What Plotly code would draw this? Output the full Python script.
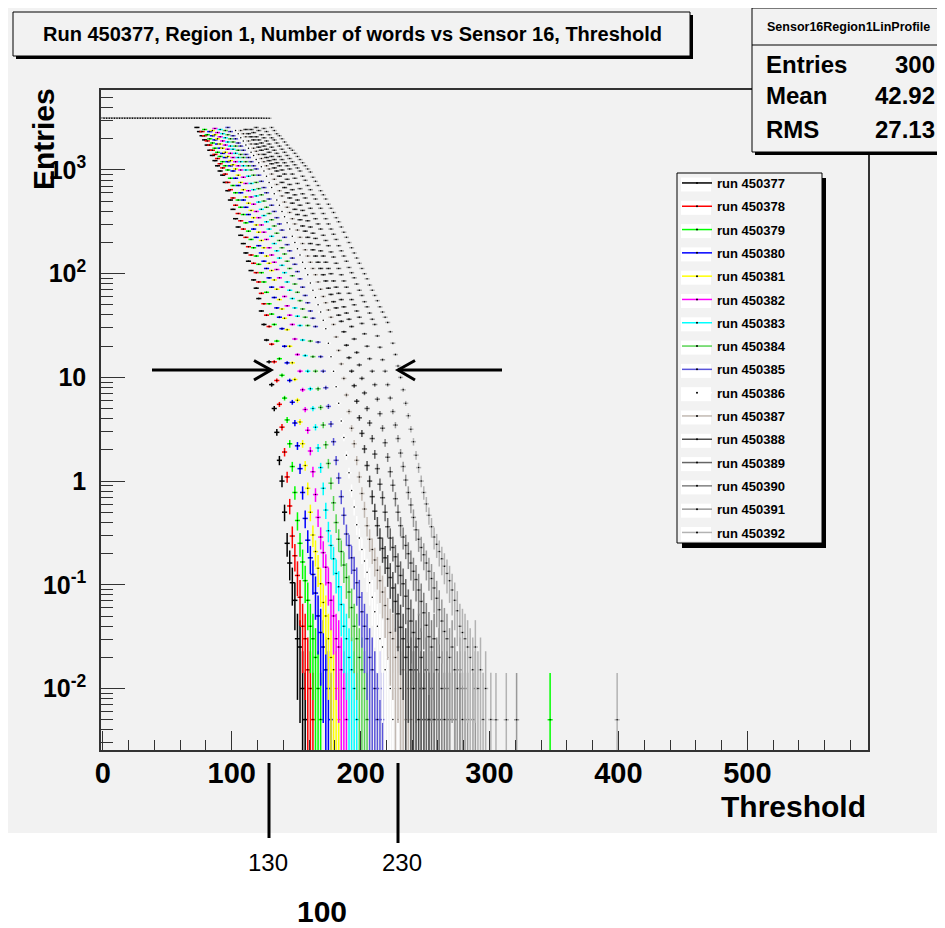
import math
import plotly.graph_objects as go

FONT = "Liberation Sans, Arial, Helvetica, sans-serif"
BG = "#f2f2f2"

# ---------------- data ----------------
run_names = ["run 450377", "run 450378", "run 450379", "run 450380", "run 450381",
             "run 450382", "run 450383", "run 450384", "run 450385", "run 450386",
             "run 450387", "run 450388", "run 450389", "run 450390", "run 450391",
             "run 450392"]
run_colors = ["#000000", "#ff0000", "#00ff00", "#0000ff", "#ffff00", "#ff00ff",
              "#00ffff", "#59d454", "#5954d9", "#ffffff", "#c2b9b2", "#4d4d4d",
              "#666666", "#808080", "#999999", "#b3b3b3"]

saturation_entries = 3150          # flat (saturated) level at low thresholds
threshold_step = 2                 # thresholds scanned every 2 units, odd values
run_first_threshold = [73, 77, 79, 83, 85, 87, 91, 95, 97, 103, 107, 111, 115, 119, 125, 131]

# log10(Entries) read at consecutive thresholds starting at run_first_threshold (None = empty bin)
log10_entries_450377 = [3.41, 3.37, 3.33, 3.29, 3.24, 3.19, 3.14, 3.09, 3.04, 2.99, 2.95, 2.88, 2.80, 2.71, 2.62,
                        2.53, 2.45, 2.37, 2.29, 2.20, 2.12, 2.03, 1.94, 1.86, 1.76, 1.64, 1.51, 1.36, 1.15, 0.93,
                        0.70, 0.47, 0.20, 0.00, -0.30, -0.60, -0.79, -0.98, -1.15, -1.52, -1.60, -2.00, -2.30]
log10_entries_450378 = [3.37, 3.33, 3.28, 3.24, 3.19, 3.15, 3.11, 3.06, 3.02, 2.96, 2.88, 2.81, 2.73, 2.66, 2.58,
                        2.51, 2.43, 2.35, 2.26, 2.18, 2.10, 2.01, 1.92, 1.81, 1.71, 1.60, 1.49, 1.32, 1.15, 0.97,
                        0.74, 0.52, 0.28, 0.04, -0.24, -0.53, -0.72, -0.91, -1.12, -1.40, -1.52, -1.82, -2.00, -2.30]
log10_entries_450379 = [3.39, 3.34, 3.30, 3.26, 3.21, 3.17, 3.13, 3.08, 3.04, 3.00, 2.92, 2.85, 2.78, 2.71, 2.64,
                        2.57, 2.49, 2.41, 2.33, 2.25, 2.17, 2.09, 2.01, 1.92, 1.82, 1.71, 1.61, 1.51, 1.35, 1.18,
                        1.02, 0.80, 0.59, 0.36, 0.14, -0.11, -0.38, -0.60, -0.78, -0.96, -1.15, -1.40, -1.52, -1.70,
                        -2.00, -2.30]
log10_entries_450380 = [3.37, 3.33, 3.29, 3.25, 3.21, 3.16, 3.12, 3.08, 3.04, 2.99, 2.92, 2.85, 2.78, 2.71, 2.64,
                        2.57, 2.50, 2.43, 2.35, 2.27, 2.20, 2.12, 2.05, 1.96, 1.87, 1.77, 1.67, 1.58, 1.47, 1.30,
                        1.14, 0.97, 0.76, 0.56, 0.34, 0.12, -0.11, -0.36, -0.57, -0.74, -0.90, -1.08, -1.30, -1.46,
                        -1.60, -1.82, -2.00, -2.30]
log10_entries_450381 = [3.38, 3.34, 3.30, 3.25, 3.21, 3.17, 3.13, 3.09, 3.05, 3.01, 2.95, 2.88, 2.81, 2.74, 2.68,
                        2.61, 2.54, 2.47, 2.40, 2.32, 2.25, 2.17, 2.10, 2.03, 1.94, 1.85, 1.75, 1.66, 1.57, 1.46,
                        1.30, 1.14, 0.98, 0.78, 0.57, 0.36, 0.15, -0.07, -0.30, -0.52, -0.68, -0.84, -0.99, -1.17,
                        -1.30, -1.52, -1.70, -1.82, -2.00, -2.30]
log10_entries_450382 = [3.40, 3.36, 3.32, 3.28, 3.24, 3.20, 3.16, 3.12, 3.08, 3.04, 3.00, 2.93, 2.87, 2.80, 2.74,
                        2.67, 2.60, 2.54, 2.47, 2.40, 2.33, 2.25, 2.18, 2.11, 2.04, 1.96, 1.87, 1.78, 1.69, 1.60,
                        1.51, 1.37, 1.22, 1.06, 0.88, 0.69, 0.49, 0.29, 0.09, -0.13, -0.35, -0.54, -0.69, -0.83,
                        -0.98, -1.15, -1.30, -1.52, -1.60, -1.82, -2.00, -2.30]
log10_entries_450383 = [3.39, 3.35, 3.31, 3.27, 3.23, 3.20, 3.16, 3.12, 3.08, 3.04, 3.00, 2.94, 2.87, 2.81, 2.75,
                        2.69, 2.62, 2.56, 2.50, 2.43, 2.36, 2.29, 2.22, 2.15, 2.08, 2.01, 1.92, 1.84, 1.76, 1.67,
                        1.59, 1.50, 1.36, 1.21, 1.06, 0.89, 0.70, 0.52, 0.32, 0.13, -0.07, -0.28, -0.48, -0.62,
                        -0.75, -0.89, -1.02, -1.19, -1.40, -1.52, -1.70, -1.82, -2.00, -2.30]
log10_entries_450384 = [3.38, 3.34, 3.30, 3.27, 3.23, 3.19, 3.15, 3.12, 3.08, 3.04, 3.00, 2.95, 2.88, 2.82, 2.76,
                        2.70, 2.64, 2.58, 2.52, 2.46, 2.39, 2.32, 2.25, 2.19, 2.12, 2.05, 1.98, 1.90, 1.82, 1.74,
                        1.66, 1.58, 1.50, 1.35, 1.20, 1.06, 0.89, 0.71, 0.54, 0.35, 0.17, -0.02, -0.21, -0.40,
                        -0.56, -0.68, -0.81, -0.93, -1.07, -1.22, -1.40, -1.52, -1.70, -1.82, -2.00, -2.30]
log10_entries_450385 = [3.41, 3.37, 3.33, 3.30, 3.26, 3.23, 3.19, 3.15, 3.12, 3.08, 3.04, 3.01, 2.95, 2.89, 2.83,
                        2.78, 2.72, 2.66, 2.60, 2.54, 2.48, 2.42, 2.35, 2.28, 2.22, 2.15, 2.09, 2.02, 1.95, 1.87,
                        1.79, 1.72, 1.64, 1.57, 1.49, 1.34, 1.20, 1.06, 0.90, 0.72, 0.55, 0.38, 0.20, 0.03, -0.15,
                        -0.33, -0.51, -0.62, -0.74, -0.86, -0.98, -1.12, -1.26, -1.40, -1.52, -1.70, -1.82, -2.00,
                        -2.30, -2.00, -2.30]
log10_entries_450386 = [3.38, 3.35, 3.31, 3.28, 3.24, 3.21, 3.17, 3.14, 3.10, 3.07, 3.03, 2.99, 2.94, 2.88, 2.83,
                        2.77, 2.71, 2.66, 2.60, 2.55, 2.49, 2.43, 2.36, 2.30, 2.24, 2.18, 2.11, 2.05, 1.99, 1.91,
                        1.84, 1.77, 1.70, 1.63, 1.55, 1.47, 1.33, 1.20, 1.06, 0.91, 0.75, 0.58, 0.42, 0.25, 0.08,
                        -0.09, -0.25, -0.42, -0.55, -0.66, -0.77, -0.88, -0.98, -1.12, -1.26, -1.40, -1.52, -1.60,
                        -1.82, -1.70, -2.00, -2.30, -2.00, -2.30]
log10_entries_450387 = [3.38, 3.35, 3.32, 3.28, 3.25, 3.21, 3.18, 3.15, 3.11, 3.08, 3.04, 3.01, 2.96, 2.91, 2.86,
                        2.80, 2.75, 2.69, 2.64, 2.59, 2.53, 2.48, 2.42, 2.35, 2.29, 2.23, 2.17, 2.11, 2.05, 1.99,
                        1.92, 1.85, 1.78, 1.72, 1.65, 1.58, 1.51, 1.39, 1.26, 1.13, 0.99, 0.83, 0.67, 0.51, 0.36,
                        0.20, 0.04, -0.12, -0.27, -0.43, -0.56, -0.66, -0.76, -0.86, -0.96, -1.07, -1.20, -1.33,
                        -1.46, -1.52, -1.70, -1.60, -2.00, -1.82, -2.30, -2.00, -2.30]
log10_entries_450388 = [3.39, 3.35, 3.32, 3.29, 3.25, 3.22, 3.19, 3.15, 3.12, 3.09, 3.06, 3.02, 2.99, 2.94, 2.88,
                        2.83, 2.78, 2.73, 2.68, 2.62, 2.57, 2.52, 2.46, 2.41, 2.35, 2.29, 2.23, 2.17, 2.11, 2.05,
                        1.99, 1.93, 1.86, 1.80, 1.73, 1.67, 1.60, 1.54, 1.44, 1.31, 1.19, 1.06, 0.92, 0.77, 0.61,
                        0.46, 0.31, 0.15, 0.00, -0.15, -0.29, -0.43, -0.55, -0.65, -0.74, -0.84, -0.93, -1.03,
                        -1.16, -1.28, -1.41, -1.52, -1.70, -1.60, -1.82, -2.00, -1.82, -2.30, -2.00, -2.30, None,
                        -2.30]
log10_entries_450389 = [3.39, 3.36, 3.32, 3.29, 3.26, 3.23, 3.20, 3.17, 3.13, 3.10, 3.07, 3.04, 3.00, 2.96, 2.91,
                        2.86, 2.81, 2.76, 2.71, 2.66, 2.61, 2.56, 2.51, 2.45, 2.39, 2.34, 2.28, 2.22, 2.17, 2.11,
                        2.05, 2.00, 1.93, 1.87, 1.81, 1.75, 1.68, 1.62, 1.56, 1.49, 1.37, 1.24, 1.12, 0.99, 0.85,
                        0.70, 0.56, 0.41, 0.26, 0.12, -0.03, -0.16, -0.30, -0.44, -0.55, -0.64, -0.73, -0.82,
                        -0.91, -0.99, -1.11, -1.23, -1.35, -1.46, -1.60, -1.52, -1.70, -2.00, -1.82, -2.30, -2.00,
                        -2.30, None, -2.30]
log10_entries_450390 = [3.41, 3.38, 3.34, 3.31, 3.28, 3.25, 3.22, 3.19, 3.16, 3.13, 3.10, 3.07, 3.04, 3.01, 2.96,
                        2.92, 2.87, 2.82, 2.77, 2.73, 2.68, 2.63, 2.58, 2.53, 2.48, 2.43, 2.37, 2.32, 2.27, 2.21,
                        2.16, 2.10, 2.05, 1.99, 1.93, 1.87, 1.81, 1.75, 1.70, 1.64, 1.58, 1.52, 1.42, 1.30, 1.18,
                        1.06, 0.93, 0.79, 0.65, 0.51, 0.37, 0.23, 0.09, -0.04, -0.17, -0.30, -0.43, -0.54, -0.62,
                        -0.70, -0.79, -0.87, -0.95, -1.05, -1.16, -1.27, -1.39, -1.50, -1.60, -1.52, -1.82, -1.70,
                        -2.00, -2.30, -2.00, -2.30, None, -2.30, None, -2.00]
log10_entries_450391 = [3.40, 3.37, 3.34, 3.31, 3.29, 3.26, 3.23, 3.20, 3.17, 3.14, 3.11, 3.08, 3.05, 3.02, 2.99,
                        2.94, 2.90, 2.85, 2.81, 2.76, 2.72, 2.67, 2.63, 2.58, 2.53, 2.48, 2.43, 2.38, 2.33, 2.27,
                        2.22, 2.17, 2.12, 2.06, 2.01, 1.96, 1.90, 1.84, 1.79, 1.73, 1.68, 1.62, 1.56, 1.51, 1.40,
                        1.29, 1.17, 1.06, 0.93, 0.80, 0.67, 0.54, 0.41, 0.27, 0.14, 0.01, -0.11, -0.23, -0.35,
                        -0.47, -0.56, -0.64, -0.71, -0.79, -0.87, -0.94, -1.03, -1.13, -1.24, -1.35, -1.45, -1.52,
                        -1.70, -1.60, -1.82, -2.00, -1.82, -2.30, -2.00, -2.30, None, -2.30, -2.00]
log10_entries_450392 = [3.41, 3.38, 3.35, 3.33, 3.30, 3.27, 3.24, 3.21, 3.19, 3.16, 3.13, 3.10, 3.07, 3.04, 3.01,
                        2.98, 2.93, 2.89, 2.85, 2.80, 2.76, 2.72, 2.67, 2.63, 2.59, 2.54, 2.50, 2.45, 2.40, 2.35,
                        2.30, 2.25, 2.20, 2.15, 2.10, 2.05, 2.00, 1.95, 1.89, 1.84, 1.79, 1.74, 1.68, 1.63, 1.58,
                        1.53, 1.44, 1.33, 1.22, 1.11, 1.00, 0.88, 0.75, 0.63, 0.50, 0.38, 0.25, 0.13, 0.00, -0.11,
                        -0.22, -0.33, -0.44, -0.54, -0.61, -0.68, -0.75, -0.82, -0.89, -0.96, -1.05, -1.15, -1.25,
                        -1.40, -1.46, -1.52, -1.60, -1.70, -1.82, -1.60, -2.00, -1.82, -2.30, -2.00, None, -2.30]
run_log10_entries = [log10_entries_450377, log10_entries_450378, log10_entries_450379, log10_entries_450380,
                     log10_entries_450381, log10_entries_450382, log10_entries_450383, log10_entries_450384,
                     log10_entries_450385, log10_entries_450386, log10_entries_450387, log10_entries_450388,
                     log10_entries_450389, log10_entries_450390, log10_entries_450391, log10_entries_450392]

# isolated single-entry bins far in the tail
straggler_run = ["run 450392", "run 450392", "run 450391", "run 450379", "run 450392"]
straggler_threshold = [305, 313, 321, 347, 399]
straggler_entries = [0.005, 0.005, 0.005, 0.005, 0.005]

error_scale = 60.0   # profile error ~ sqrt(entries / error_scale)

x_tick_values = [0, 100, 200, 300, 400, 500]
x_tick_labels = ["0", "100", "200", "300", "400", "500"]
y_tick_values = [0.01, 0.1, 1, 10, 100, 1000]
y_tick_labels = ["10<sup>-2</sup>", "10<sup>-1</sup>", "1", "10", "10<sup>2</sup>", "10<sup>3</sup>"]
y_minor_values = [m * 10.0 ** e for e in range(-3, 4) for m in range(2, 10) if 0.0025 < m * 10.0 ** e < 5900]

# ---------------- geometry (screen pixels; the page body adds an 8 px offset) ----------------
OFF = 8
W, H = 945 - OFF, 928 - OFF
PL, PR, PT, PB = 101, 868, 90, 750   # plot frame in screen pixels


def px(x):
    return (x - PL) / (PR - PL)


def py(y):
    return (PB - y) / (PB - PT)


fig = go.Figure()

for i, name in enumerate(run_names):
    start = run_first_threshold[i]
    xs = list(range(1, start, threshold_step))
    ys = [saturation_entries] * len(xs)
    for k, v in enumerate(run_log10_entries[i]):
        xs.append(start + threshold_step * k)
        ys.append(None if v is None else 10 ** v)
    for r, t, e in zip(straggler_run, straggler_threshold, straggler_entries):
        if r == name:
            xs.append(t)
            ys.append(e)
    errs = [math.sqrt(y / error_scale) if y else 0 for y in ys]
    c = run_colors[i]
    fig.add_trace(go.Scatter(
        x=xs, y=ys, mode="markers", name=name, legendgroup=name, showlegend=False,
        marker=dict(color="black", size=1.5, line=dict(width=0)),
        error_y=dict(type="data", array=errs, color=c, thickness=1.5, width=0),
        error_x=dict(type="constant", value=2.0, color=c, thickness=1.5, width=0),
        hoverinfo="x+y+name"))
    fig.add_trace(go.Scatter(
        x=[None], y=[None], mode="lines+markers", name=name, legendgroup=name, showlegend=True,
        line=dict(color=c, width=1.5), marker=dict(color="black", size=2)))

shapes = []
# canvas grey area
shapes.append(dict(type="rect", xref="paper", yref="paper", x0=px(4), x1=px(950), y0=py(833), y1=py(5),
                   fillcolor=BG, line=dict(width=0), layer="below"))
# title box with shadow
shapes.append(dict(type="rect", xref="paper", yref="paper", x0=px(16), x1=px(693), y0=py(59), y1=py(15),
                   fillcolor="black", line=dict(width=0)))
shapes.append(dict(type="rect", xref="paper", yref="paper", x0=px(13), x1=px(690), y0=py(56), y1=py(12),
                   fillcolor=BG, line=dict(color="black", width=1)))
# stats box
shapes.append(dict(type="rect", xref="paper", yref="paper", x0=px(755), x1=px(960), y0=py(155), y1=py(11),
                   fillcolor="black", line=dict(width=0)))
shapes.append(dict(type="rect", xref="paper", yref="paper", x0=px(752), x1=px(960), y0=py(152), y1=py(8),
                   fillcolor=BG, line=dict(color="black", width=1)))
shapes.append(dict(type="line", xref="paper", yref="paper", x0=px(752), x1=px(960), y0=py(45), y1=py(45),
                   line=dict(color="black", width=1)))
# legend box with shadow
shapes.append(dict(type="rect", xref="paper", yref="paper", x0=px(682), x1=px(826), y0=py(548), y1=py(178),
                   fillcolor="black", line=dict(width=0), layer="above"))
shapes.append(dict(type="rect", xref="paper", yref="paper", x0=px(677), x1=px(822), y0=py(543), y1=py(173),
                   fillcolor=BG, line=dict(color="black", width=1), layer="above"))
for k in range(len(run_names)):
    yc = 184.5 + 23.3 * k
    shapes.append(dict(type="rect", xref="paper", yref="paper", x0=px(681), x1=px(711), y0=py(yc + 7),
                       y1=py(yc - 7), fillcolor="white", line=dict(width=0), layer="above"))
# arrows marking the y=10 crossing
for seg in [((152, 370), (271, 370)), ((398, 370), (502, 370))]:
    shapes.append(dict(type="line", xref="paper", yref="paper", x0=px(seg[0][0]), y0=py(seg[0][1]),
                       x1=px(seg[1][0]), y1=py(seg[1][1]), line=dict(color="black", width=3), layer="above"))
for tip, back in [(271, 254), (398, 415)]:
    path = "M{},{} L{},{} L{},{}".format(px(back), py(360.5), px(tip), py(370), px(back), py(380))
    shapes.append(dict(type="path", xref="paper", yref="paper", path=path,
                       line=dict(color="black", width=3), layer="above"))
# marker lines below the axis
shapes.append(dict(type="line", xref="paper", yref="paper", x0=px(269), x1=px(269), y0=py(838), y1=py(763),
                   line=dict(color="black", width=3)))
shapes.append(dict(type="line", xref="paper", yref="paper", x0=px(398), x1=px(398), y0=py(843), y1=py(763),
                   line=dict(color="black", width=3)))

ann = []


def text(s, x, y, size, bold=True, xanchor="center", yanchor="middle", angle=0):
    ann.append(dict(text=s, x=px(x), y=py(y), xref="paper", yref="paper", showarrow=False,
                    xanchor=xanchor, yanchor=yanchor, textangle=angle,
                    font=dict(family=FONT, size=size, color="black", weight="bold" if bold else "normal")))


text("Run 450377, Region 1, Number of words vs Sensor 16, Threshold", 352, 34, 20)
text("Sensor16Region1LinProfile", 848, 27, 12.5)
text("Entries", 764, 64, 24, xanchor="left")
text("300", 937, 64, 24, xanchor="right")
text("Mean", 764, 96, 24, xanchor="left")
text("42.92", 937, 96, 24, xanchor="right")
text("RMS", 764, 129, 24, xanchor="left")
text("27.13", 937, 129, 24, xanchor="right")
text("Entries", 43, 139, 30, angle=-90)
text("Threshold", 868, 806, 30, xanchor="right")
text("130", 268, 862, 24, bold=False)
text("230", 402, 862, 24, bold=False)
text("100", 322, 911, 30)

axis_common = dict(showline=True, linecolor="#333333", linewidth=1.5, mirror=True, showgrid=False,
                   zeroline=False, ticks="inside", tickcolor="#333333", tickwidth=1, automargin=False)

fig.update_layout(
    template="none",
    width=W, height=H,
    margin=dict(l=PL - OFF, r=945 - PR, t=PT - OFF, b=928 - PB, pad=0),
    paper_bgcolor="white", plot_bgcolor=BG,
    font=dict(family=FONT, color="black"),
    shapes=shapes, annotations=ann,
    showlegend=True,
    legend=dict(x=px(677), y=py(168), xanchor="left", yanchor="top", bgcolor="rgba(0,0,0,0)",
                borderwidth=0, font=dict(family=FONT, size=13, color="black", weight="bold"),
                tracegroupgap=3.4, itemwidth=30, traceorder="grouped"),
    xaxis=dict(range=[-1.4, 593.6], tickmode="array", tickvals=x_tick_values, ticktext=x_tick_labels,
               ticklen=19, ticklabelstandoff=-4,
               tickfont=dict(family=FONT, size=29, color="black", weight="bold"),
               minor=dict(tickmode="linear", tick0=0, dtick=20, ticks="inside", ticklen=10,
                          tickcolor="#333333"),
               **axis_common),
    yaxis=dict(type="log", range=[-2.593, 3.771], tickmode="array", tickvals=y_tick_values,
               ticktext=y_tick_labels, ticklen=24, ticklabelstandoff=8,
               tickfont=dict(family=FONT, size=25, color="black", weight="bold"),
               minor=dict(tickmode="array", tickvals=y_minor_values, ticks="inside", ticklen=12,
                          tickcolor="#333333"),
               **axis_common),
)

fig.write_html("out.html")
